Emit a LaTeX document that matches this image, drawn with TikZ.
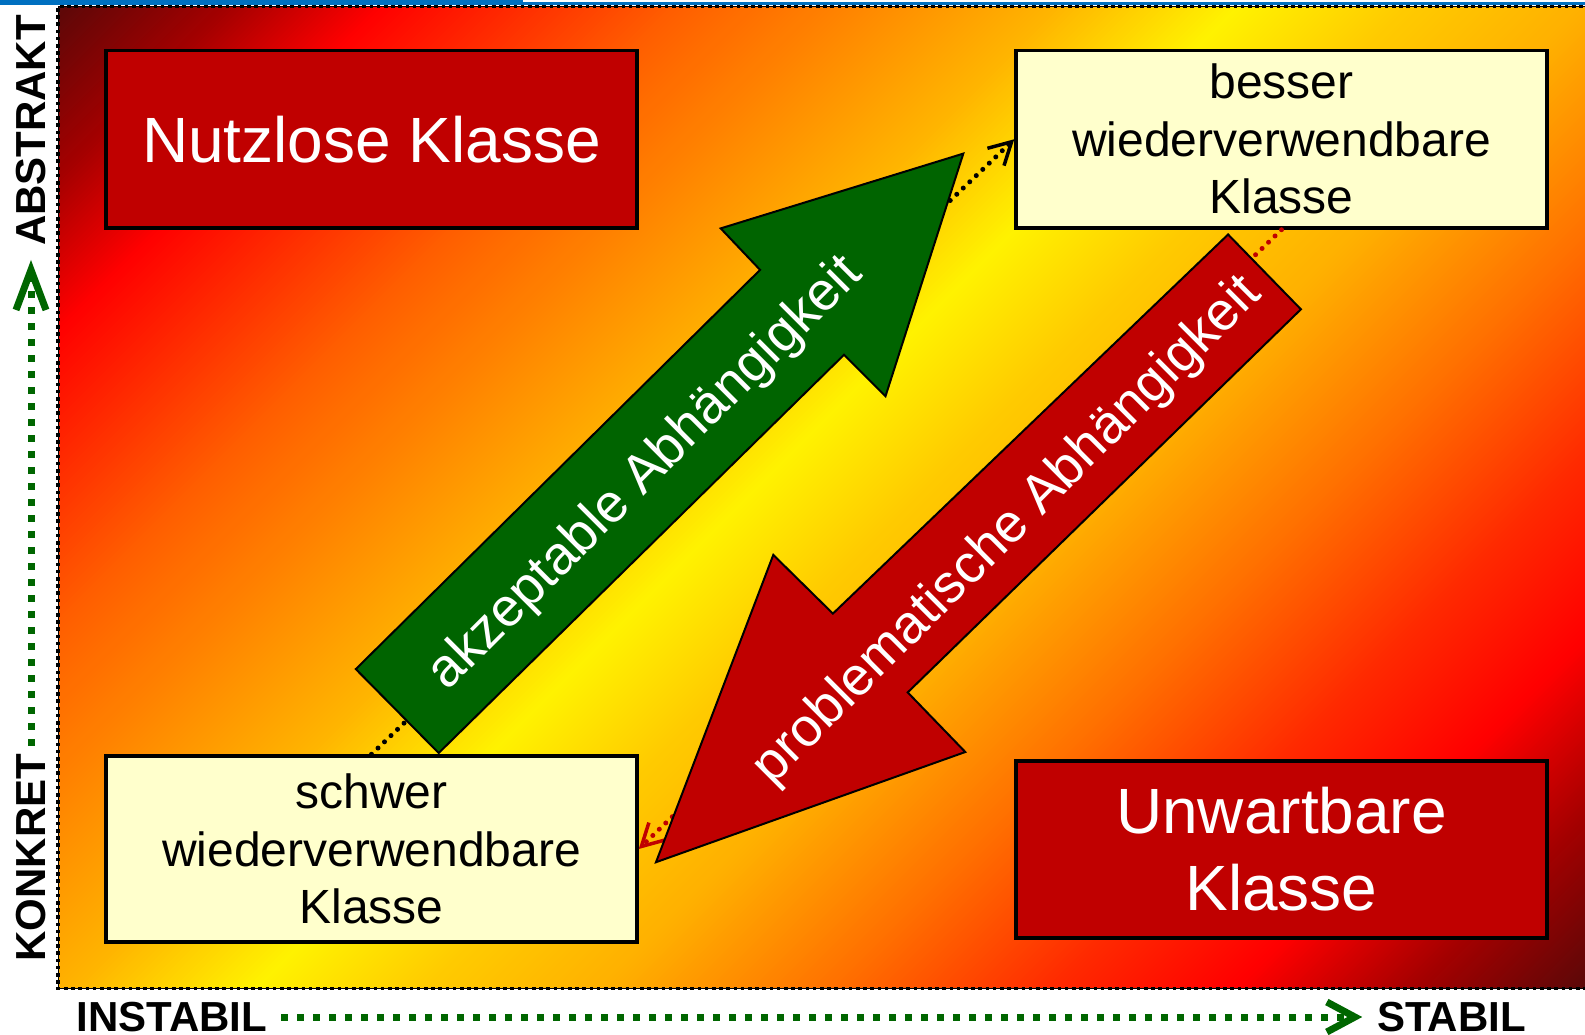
\documentclass[tikz,border=0pt]{standalone}
\usepackage{fontspec}
\setmainfont{Liberation Sans}
\usetikzlibrary{arrows.meta}

\definecolor{boxred}{RGB}{192,0,0}
\definecolor{boxcream}{RGB}{255,255,204}
\definecolor{arrowgreen}{RGB}{0,100,0}
\definecolor{axisgreen}{RGB}{0,102,0}
\definecolor{slideblue}{RGB}{0,112,192}

\tikzset{
  classbox/.style={draw=black, line width=3.5pt, inner sep=0pt, minimum width=531pt, align=center},
  badbox/.style={classbox, fill=boxred, text=white, font=\fontsize{64}{77}\selectfont},
  goodbox/.style={classbox, fill=boxcream, text=black, font=\fontsize{48}{57.5}\selectfont},
  bigarrow/.style={draw=black, line width=2pt, line join=miter},
  arrowlabel/.style={text=white, rotate=45, inner sep=0pt, font=\fontsize{54}{64}\selectfont},
  axislabel/.style={inner sep=0pt, outer sep=0pt, font=\fontsize{42}{50}\selectfont\bfseries},
  axisline/.style={draw=axisgreen, line width=7pt, dash pattern=on 7pt off 9pt},
  depline/.style={line width=5pt, line cap=round, dash pattern=on 0pt off 9pt},
  deptip/.style={-{Straight Barb[length=22pt,width=24pt,line width=3.5pt]}},
}

\begin{document}
\begin{tikzpicture}[x=1pt, y=-1pt]
\useasboundingbox (0,0) rectangle (1585,1035);

% diagonal fire gradient of the quadrant field, built from thin strips
\begin{scope}
  \clip (58,6.5) rectangle (1590,988.5);
  \begin{scope}[shift={(821,497.5)}, rotate=-45]
    \foreach \gfa/\gfb/\gra/\gga/\gba/\grb/\ggb/\gbb in {
        0.00/0.07/90/8/8/165/0/0,
        0.07/0.13/165/0/0/255/0/0,
        0.13/0.18/255/0/0/255/40/0,
        0.18/0.25/255/40/0/255/96/0,
        0.25/0.33/255/96/0/255/140/0,
        0.33/0.40/255/140/0/255/182/0,
        0.40/0.47/255/182/0/255/242/0,
        0.47/0.54/255/242/0/255/202/0,
        0.54/0.61/255/202/0/255/176/0,
        0.61/0.70/255/176/0/255/112/0,
        0.70/0.79/255/112/0/255/40/0,
        0.79/0.86/255/40/0/255/0/0,
        0.86/0.93/255/0/0/165/0/0,
        0.93/1.00/165/0/0/90/8/8}{
      \pgfmathtruncatemacro\gsn{max(1,round((\gfb-\gfa)*1778/3))}
      \foreach \gk in {1,...,\gsn}{
        \pgfmathsetmacro\gs{(\gk-0.5)/\gsn}
        \pgfmathtruncatemacro\gR{round(\gra+(\grb-\gra)*\gs)}
        \pgfmathtruncatemacro\gG{round(\gga+(\ggb-\gga)*\gs)}
        \pgfmathtruncatemacro\gB{round(\gba+(\gbb-\gba)*\gs)}
        \definecolor{strip}{RGB}{\gR,\gG,\gB}
        \pgfmathsetmacro\gta{-889+1778*(\gfa+(\gfb-\gfa)*(\gk-1)/\gsn)}
        \pgfmathsetmacro\gtb{\gta+1778*(\gfb-\gfa)/\gsn+1.2}
        \fill[strip] (\gta,-1300) rectangle (\gtb,1300);
      }
    }
  \end{scope}
\end{scope}

% slide edge line
\fill[slideblue] (0,0) rectangle (523,5);
\fill[slideblue] (523,2.5) rectangle (1585,5.5);

% dotted frame of the field
\draw[line width=1pt] (1590,6.5) -- (58,6.5) -- (58,988.5) -- (1590,988.5);
\draw[line width=3.5pt, dash pattern=on 3.6pt off 3.6pt] (1590,6.5) -- (58,6.5) -- (58,988.5) -- (1590,988.5);

% class boxes
\node[badbox, minimum height=177.5pt] (useless) at (371.5,139.25) {Nutzlose Klasse};
\node[goodbox, minimum height=177.5pt] (reusable) at (1281.5,139.25) {besser\\wiederverwendbare\\Klasse};
\node[goodbox, minimum height=186pt] (hardreuse) at (371.5,849) {schwer\\wiederverwendbare\\Klasse};
\node[badbox, minimum height=177pt] (unmaint) at (1281.5,849.5) {Unwartbare\\Klasse};

% dependencies
\draw[depline, black, deptip] (hardreuse.north) -- (reusable.west);
\draw[depline, boxred, deptip] (reusable.south) -- (hardreuse.east);

% block arrows
\draw[bigarrow, fill=arrowgreen] (355.8,669.1) -- (760.1,269.9) -- (720.7,228.4) -- (963.3,153.6)
  -- (885.5,396.2) -- (844.0,354.8) -- (438.7,753.0) -- cycle;
\draw[bigarrow, fill=boxred] (1228.1,234.5) -- (1300.9,309.3) -- (907.7,692.4) -- (965.3,752.0)
  -- (656.0,862.2) -- (773.3,554.9) -- (832.9,613.6) -- cycle;
\node[arrowlabel] (acceptable) at (646,474) {akzeptable Abhängigkeit};
\node[arrowlabel] (problematic) at (1008,531) {problematische Abhängigkeit};

% axes
\node[axislabel, rotate=90] (abstract) at (31,130.5) {ABSTRAKT};
\node[axislabel, rotate=90] (concrete) at (31,857.5) {KONKRET};
\node[axislabel] (unstable) at (172,1017) {INSTABIL};
\node[axislabel] (stable) at (1451.5,1017) {STABIL};
\draw[axisline, shorten <=14pt, shorten >=15pt,
  -{Straight Barb[length=28pt,width=30pt,line width=7pt]}] (unstable.east) -- (stable.west);
\draw[axisline, shorten <=8pt, shorten >=14pt,
  -{Straight Barb[length=40pt,width=30pt,line width=7pt]}] (concrete.east) -- (abstract.west);
\end{tikzpicture}
\end{document}
